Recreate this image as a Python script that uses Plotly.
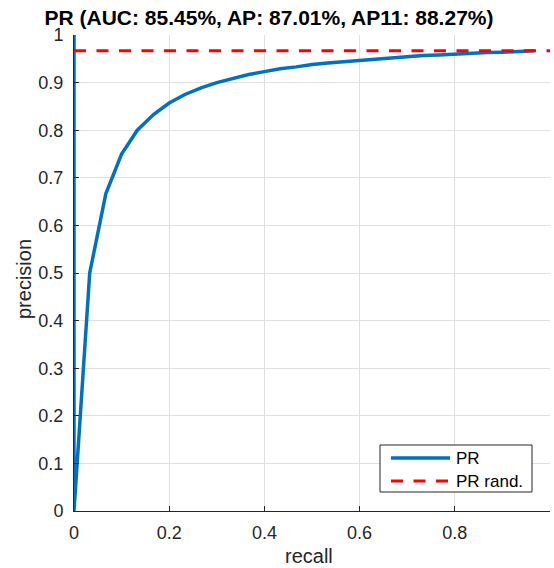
import plotly.graph_objects as go

# Data
recall = [0.0, 0.0, 0.033, 0.067, 0.1, 0.133, 0.167, 0.2, 0.233, 0.267, 0.3,
          0.333, 0.367, 0.4, 0.433, 0.467, 0.5, 0.533, 0.567, 0.6, 0.633,
          0.667, 0.7, 0.733, 0.767, 0.8, 0.833, 0.867, 0.9, 0.933, 0.967]
precision = [1.0, 0.0, 0.5, 0.667, 0.75, 0.8, 0.833, 0.857, 0.875, 0.889, 0.9,
             0.909, 0.917, 0.923, 0.929, 0.933, 0.938, 0.941, 0.944, 0.947, 0.95,
             0.952, 0.955, 0.957, 0.958, 0.96, 0.962, 0.963, 0.964, 0.966, 0.967]
rand_x = [0.0, 1.0]
rand_y = [0.967, 0.967]

series_names = ["PR", "PR rand."]
x_ticks = [0, 0.2, 0.4, 0.6, 0.8, 1]
x_tick_labels = ["0", "0.2", "0.4", "0.6", "0.8", "1"]
y_ticks = [0, 0.1, 0.2, 0.3, 0.4, 0.5, 0.6, 0.7, 0.8, 0.9, 1]
y_tick_labels = ["0", "0.1", "0.2", "0.3", "0.4", "0.5", "0.6", "0.7", "0.8", "0.9", "1"]

title_text = "PR (AUC: 85.45%, AP: 87.01%, AP11: 88.27%)"
x_title = "recall"
y_title = "precision"

FONT = "Liberation Sans, Arial, Helvetica, sans-serif"
AX = "#262626"
GRID = "#e0e0e0"
BLUE = "#0072BD"
RED = "#FF0000"
RED_DASH = "12px,10.5px"

W, H = 554, 568
L, R, T, B = 74, 4, 35, 57
PW, PH = W - L - R, H - T - B


def px(xp):
    return (xp - L) / PW


def py(yp):
    return (H - B - yp) / PH


fig = go.Figure()
fig.add_trace(go.Scatter(x=recall, y=precision, mode="lines", name=series_names[0],
                         line=dict(color=BLUE, width=3.5), showlegend=False))
fig.add_trace(go.Scatter(x=rand_x, y=rand_y, mode="lines", name=series_names[1],
                         line=dict(color=RED, width=3, dash=RED_DASH), showlegend=False))

axis_common = dict(
    showline=True, linecolor=AX, linewidth=1, mirror=False,
    showgrid=True, gridcolor=GRID, gridwidth=1,
    zeroline=False, ticks="inside", ticklen=5, tickcolor=AX,
    tickfont=dict(family=FONT, size=18, color=AX),
)

# Legend box drawn manually (MATLAB style, long line samples)
shapes = [
    dict(type="rect", xref="paper", yref="paper",
         x0=px(380), x1=px(532), y0=py(492), y1=py(445),
         line=dict(color=AX, width=1), fillcolor="white", layer="above"),
    dict(type="line", xref="paper", yref="paper",
         x0=px(391), x1=px(450), y0=py(458), y1=py(458),
         line=dict(color=BLUE, width=3.5), layer="above"),
    dict(type="line", xref="paper", yref="paper",
         x0=px(391), x1=px(450), y0=py(481), y1=py(481),
         line=dict(color=RED, width=3, dash=RED_DASH), layer="above"),
]
annotations = [
    dict(text=series_names[0], xref="paper", yref="paper", x=px(454), y=py(458),
         xanchor="left", yanchor="middle", showarrow=False,
         font=dict(family=FONT, size=17, color="black")),
    dict(text=series_names[1], xref="paper", yref="paper", x=px(454), y=py(481),
         xanchor="left", yanchor="middle", showarrow=False,
         font=dict(family=FONT, size=17, color="black")),
    dict(text=x_title, xref="paper", yref="paper", x=px(308.5), y=py(556),
         xanchor="center", yanchor="middle", showarrow=False,
         font=dict(family=FONT, size=20, color=AX)),
    dict(text=y_title, xref="paper", yref="paper", x=px(24), y=py(279),
         xanchor="center", yanchor="middle", showarrow=False, textangle=-90,
         font=dict(family=FONT, size=20, color=AX)),
]

fig.update_layout(
    width=W, height=H,
    margin=dict(l=L, r=R, t=T, b=B, autoexpand=False),
    paper_bgcolor="white", plot_bgcolor="white",
    font=dict(family=FONT, color=AX),
    title=dict(text="<b>" + title_text + "</b>", x=269 / W, xanchor="center",
               xref="container", y=1 - 18 / H, yanchor="middle", yref="container",
               font=dict(family=FONT, size=21, color="black")),
    xaxis=dict(range=[0, 1], tickvals=x_ticks, ticktext=x_tick_labels,
               ticklabelstandoff=5, automargin=False, **axis_common),
    yaxis=dict(range=[0, 1], tickvals=y_ticks, ticktext=y_tick_labels,
               ticklabelstandoff=6, automargin=False, **axis_common),
    shapes=shapes,
    annotations=annotations,
    showlegend=False,
)

fig.write_html("out.html", post_script="document.body.style.margin='0';",
               config={"displayModeBar": False})
